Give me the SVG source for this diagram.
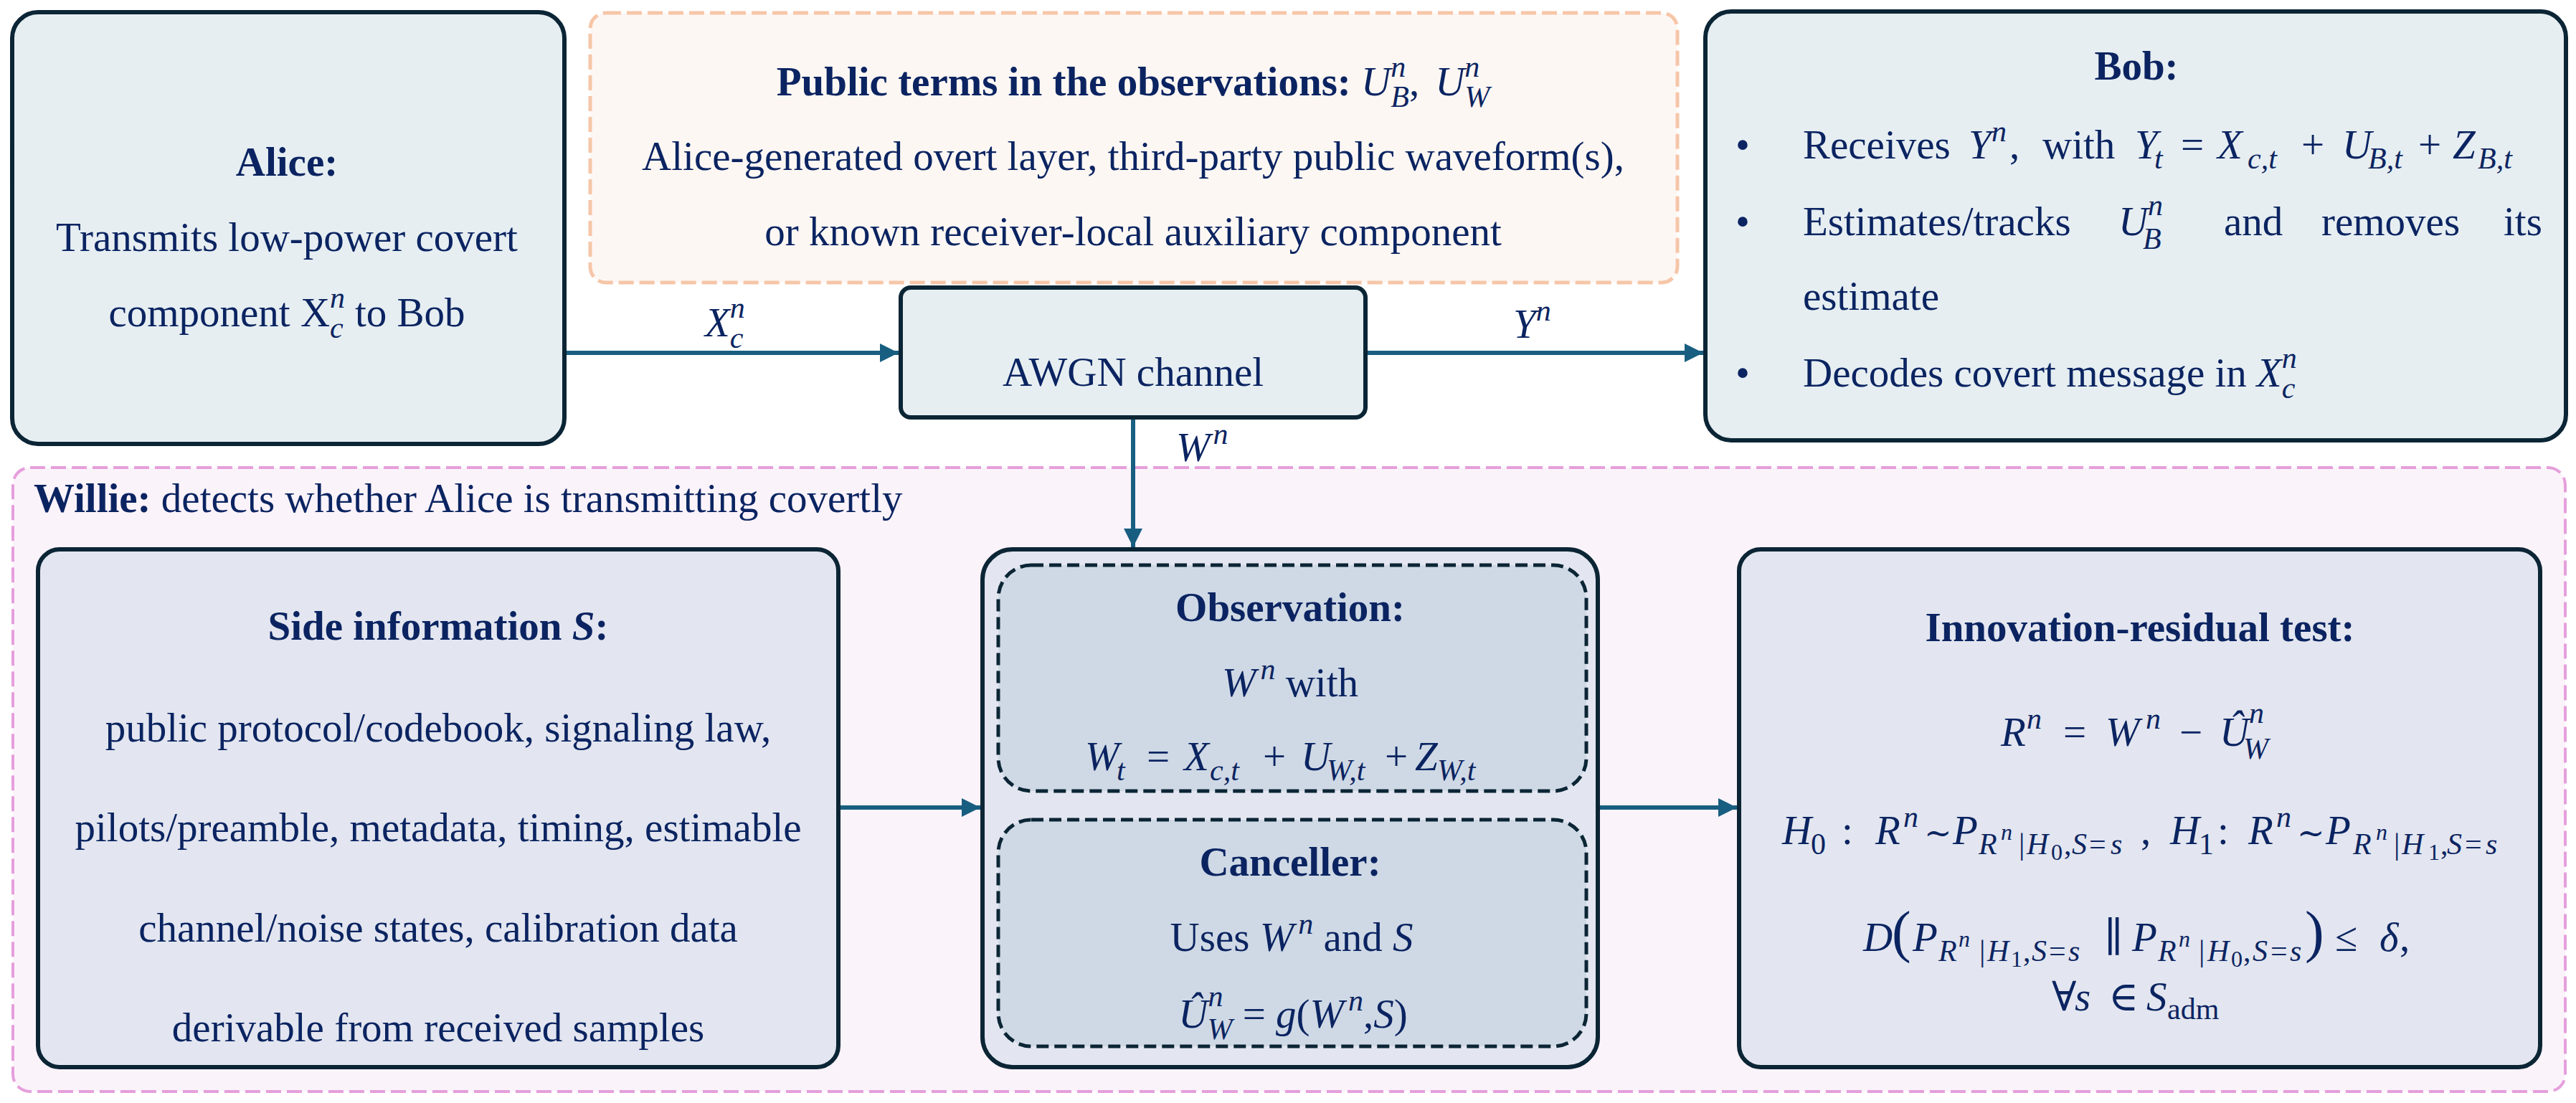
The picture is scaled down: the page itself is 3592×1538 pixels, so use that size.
<svg xmlns="http://www.w3.org/2000/svg" width="3592" height="1538" viewBox="0 0 3592 1538">
<defs>
<style>
.box{fill:#e6eef2;stroke:#0b2535;stroke-width:6}
.wbox{fill:#e3e6f0;stroke:#0b2535;stroke-width:6}
.dbox{fill:#cfd9e5;stroke:#0b2535;stroke-width:5;stroke-dasharray:17 8}
.t{font-family:"Liberation Serif","DejaVu Serif",serif;font-size:57px;fill:#0b2461}
.b{font-weight:bold}
.m{font-style:italic}
.s{font-size:42px}
.ss{font-size:32px}
.tl{font-size:46px}
.c{text-anchor:middle}
.conn line{stroke:#185e80;stroke-width:6}
</style>
<marker id="ah" markerUnits="userSpaceOnUse" markerWidth="27" markerHeight="28" refX="26" refY="13" orient="auto" viewBox="0 0 27 26"><path d="M0,0 L26,13 L0,26 z" fill="#185e80"/></marker>
</defs>
<rect width="3592" height="1538" fill="#ffffff"/>

<g id="willie">
<rect x="18" y="652" width="3559" height="870" rx="24" fill="#fbf3fa" stroke="#e59fdc" stroke-width="4" stroke-dasharray="21 8"/>
<text class="t" x="47" y="714"><tspan class="b">Willie:</tspan> detects whether Alice is transmitting covertly</text>
</g>

<g id="alice">
<rect class="box" x="17" y="17" width="770" height="602" rx="36"/>
<text class="t b c" x="400" y="245">Alice:</text>
<text class="t c" x="400" y="350">Transmits low-power covert</text>
<text class="t c" x="400" y="455">component X<tspan class="s m" dy="-26">n</tspan><tspan class="s m" dx="-21" dy="42">c</tspan><tspan dx="2" dy="-16"> to Bob</tspan></text>
</g>

<g id="public">
<rect x="823" y="18" width="1516" height="376" rx="22" fill="#fdf7f4" stroke="#f6c6a8" stroke-width="5" stroke-dasharray="21 8"/>
<text class="t c" x="1580" y="133"><tspan class="b">Public terms in the observations: </tspan><tspan class="m">U</tspan><tspan class="s m" dy="-26">n</tspan><tspan class="s m" dx="-21" dy="42">B</tspan><tspan dy="-16">,</tspan><tspan class="m" dx="22">U</tspan><tspan class="s m" dy="-26">n</tspan><tspan class="s m" dx="-21" dy="42">W</tspan></text>
<text class="t c" x="1580" y="237">Alice-generated overt layer, third-party public waveform(s),</text>
<text class="t c" x="1580" y="342">or known receiver-local auxiliary component</text>
</g>

<g id="awgn">
<rect class="box" x="1256" y="401" width="648" height="181" rx="14"/>
<text class="t c" x="1580" y="538">AWGN channel</text>
</g>

<g id="bob">
<rect class="box" x="2378" y="16" width="1200" height="598" rx="36"/>
<text class="t b c" x="2979" y="111">Bob:</text>
<text class="t" x="2420" y="221">•</text>
<text class="t" x="2420" y="328">•</text>
<text class="t" x="2420" y="539">•</text>
<text class="t" y="221"><tspan x="2514">Receives</tspan><tspan class="m" x="2745">Y</tspan><tspan class="s m" x="2777" y="197">n</tspan><tspan x="2802" y="221">,</tspan><tspan x="2848">with</tspan><tspan class="m" x="2977">Y</tspan><tspan class="s m" x="3004" y="235">t</tspan><tspan x="3041" y="221">=</tspan><tspan class="m" x="3092">X</tspan><tspan class="s m" x="3134" y="235">c,t</tspan><tspan x="3209" y="221">+</tspan><tspan class="m" x="3266">U</tspan><tspan class="s m" x="3302" y="235">B,t</tspan><tspan x="3372" y="221">+</tspan><tspan class="m" x="3420">Z</tspan><tspan class="s m" x="3455" y="235">B,t</tspan></text>
<text class="t" y="328"><tspan x="2514">Estimates/tracks</tspan><tspan class="m" x="2954">U</tspan><tspan class="s m" x="2995" y="300">n</tspan><tspan class="s m" x="2988" y="347">B</tspan><tspan x="3101" y="328">and</tspan><tspan x="3237">removes</tspan><tspan x="3491">its</tspan></text>
<text class="t" x="2514" y="432">estimate</text>
<text class="t" x="2514" y="539">Decodes covert message in<tspan class="m" dx="14">X</tspan><tspan class="s m" dy="-26">n</tspan><tspan class="s m" dx="-21" dy="42">c</tspan></text>
</g>

<g id="side-info">
<rect class="wbox" x="53" y="766" width="1116" height="722" rx="30"/>
<text class="t b c" x="611" y="892">Side information <tspan class="m">S</tspan>:</text>
<text class="t c" x="611" y="1034">public protocol/codebook, signaling law,</text>
<text class="t c" x="611" y="1173">pilots/preamble, metadata, timing, estimable</text>
<text class="t c" x="611" y="1313">channel/noise states, calibration data</text>
<text class="t c" x="611" y="1452">derivable from received samples</text>
</g>

<g id="willie-processor">
<rect class="wbox" x="1370" y="766" width="858" height="722" rx="42"/>
<g id="observation">
<rect class="dbox" x="1392" y="788" width="820" height="315" rx="46"/>
<text class="t b c" x="1799" y="866">Observation:</text>
<text class="t c" x="1799" y="971"><tspan class="m">W</tspan><tspan class="s m" dx="6" dy="-24">n</tspan><tspan dy="24"> with</tspan></text>
<text class="t" y="1074"><tspan class="m" x="1513">W</tspan><tspan class="s m" x="1557" y="1088">t</tspan><tspan x="1599" y="1074">=</tspan><tspan class="m" x="1651">X</tspan><tspan class="s m" x="1687" y="1088">c,t</tspan><tspan x="1761" y="1074">+</tspan><tspan class="m" x="1814">U</tspan><tspan class="s m" x="1850" y="1088">W,t</tspan><tspan x="1931" y="1074">+</tspan><tspan class="m" x="1973">Z</tspan><tspan class="s m" x="2004" y="1088">W,t</tspan></text>
</g>
<g id="canceller">
<rect class="dbox" x="1392" y="1143" width="820" height="316" rx="46"/>
<text class="t b c" x="1799" y="1221">Canceller:</text>
<text class="t c" x="1801" y="1326">Uses <tspan class="m">W</tspan><tspan class="s m" dx="6" dy="-24">n</tspan><tspan dy="24"> and </tspan><tspan class="m">S</tspan></text>
<text class="t c" x="1803" y="1433"><tspan class="m">Û</tspan><tspan class="s m" dy="-30">n</tspan><tspan class="s m" dx="-22" dy="46">W</tspan><tspan dy="-16"> = </tspan><tspan class="m">g</tspan>(<tspan class="m">W</tspan><tspan class="s m" dx="6" dy="-24">n</tspan><tspan dy="24">,</tspan><tspan class="m">S</tspan>)</text>
</g>
</g>

<g id="innovation">
<rect class="wbox" x="2425" y="766" width="1117" height="722" rx="30"/>
<text class="t b c" x="2984" y="894">Innovation-residual test:</text>
<text class="t" y="1040"><tspan class="m" x="2790">R</tspan><tspan class="s m" x="2826" y="1016">n</tspan><tspan x="2877" y="1040">=</tspan><tspan class="m" x="2936">W</tspan><tspan class="s m" x="2992" y="1016">n</tspan><tspan x="3039" y="1040">−</tspan><tspan class="m" x="3095">Û</tspan><tspan class="s m" x="3136" y="1008">n</tspan><tspan class="s m" x="3128" y="1058">W</tspan></text>
<text class="t" y="1177"><tspan class="m" x="2485">H</tspan><tspan class="s" x="2525" y="1191">0</tspan><tspan x="2568" y="1177">:</tspan><tspan class="m" x="2615">R</tspan><tspan class="s m" x="2654" y="1153">n</tspan><tspan class="tl" x="2683" y="1177">∼</tspan><tspan class="m" x="2723">P</tspan><tspan class="s m" x="2759" y="1191">R</tspan><tspan class="ss m" x="2790" y="1171">n</tspan><tspan class="s" x="2815" y="1191">|</tspan><tspan class="s m" x="2826">H</tspan><tspan class="ss" x="2860" y="1199">0</tspan><tspan class="s" x="2878" y="1191">,</tspan><tspan class="s m" x="2889">S</tspan><tspan class="s" x="2913">=</tspan><tspan class="s m" x="2943">s</tspan><tspan x="2985" y="1177">,</tspan><tspan class="m" x="3026">H</tspan><tspan class="s" x="3066" y="1191">1</tspan><tspan x="3092" y="1177">:</tspan><tspan class="m" x="3135">R</tspan><tspan class="s m" x="3174" y="1153">n</tspan><tspan class="tl" x="3203" y="1177">∼</tspan><tspan class="m" x="3243">P</tspan><tspan class="s m" x="3281" y="1191">R</tspan><tspan class="ss m" x="3313" y="1171">n</tspan><tspan class="s" x="3338" y="1191">|</tspan><tspan class="s m" x="3349">H</tspan><tspan class="ss" x="3386" y="1199">1</tspan><tspan class="s" x="3403" y="1191">,</tspan><tspan class="s m" x="3412">S</tspan><tspan class="s" x="3437">=</tspan><tspan class="s m" x="3466">s</tspan></text>
<text class="t" y="1326"><tspan class="m" x="2598">D</tspan><tspan x="2638" font-size="80">(</tspan><tspan class="m" x="2667">P</tspan><tspan class="s m" x="2703" y="1340">R</tspan><tspan class="ss m" x="2731" y="1320">n</tspan><tspan class="s" x="2760" y="1340">|</tspan><tspan class="s m" x="2771">H</tspan><tspan class="ss" x="2804" y="1348">1</tspan><tspan class="s" x="2821" y="1340">,</tspan><tspan class="s m" x="2833">S</tspan><tspan class="s" x="2857">=</tspan><tspan class="s m" x="2884">s</tspan><tspan x="2934" y="1326">∥</tspan><tspan class="m" x="2973">P</tspan><tspan class="s m" x="3009" y="1340">R</tspan><tspan class="ss m" x="3038" y="1320">n</tspan><tspan class="s" x="3066" y="1340">|</tspan><tspan class="s m" x="3078">H</tspan><tspan class="ss" x="3111" y="1348">0</tspan><tspan class="s" x="3128" y="1340">,</tspan><tspan class="s m" x="3141">S</tspan><tspan class="s" x="3166">=</tspan><tspan class="s m" x="3193">s</tspan><tspan x="3214" y="1326" font-size="80">)</tspan><tspan x="3256">≤</tspan><tspan class="m" x="3318">δ</tspan><tspan x="3346">,</tspan></text>
<text class="t" y="1409"><tspan x="2861">∀</tspan><tspan class="m" x="2893">s</tspan><tspan x="2940">∈</tspan><tspan class="m" x="2993">S</tspan><tspan class="s" x="3022" y="1421">adm</tspan></text>
</g>

<g id="connectors" class="conn">
<line x1="790" y1="492" x2="1253" y2="492" marker-end="url(#ah)"/>
<line x1="1907" y1="492" x2="2375" y2="492" marker-end="url(#ah)"/>
<line x1="1580" y1="585" x2="1580" y2="763" marker-end="url(#ah)"/>
<line x1="1172" y1="1126" x2="1367" y2="1126" marker-end="url(#ah)"/>
<line x1="2231" y1="1126" x2="2422" y2="1126" marker-end="url(#ah)"/>
<text class="t m" x="983" y="469">X<tspan class="s" dy="-26">n</tspan><tspan class="s" dx="-21" dy="42">c</tspan></text>
<text class="t m" x="2110" y="471">Y<tspan class="s" dy="-24">n</tspan></text>
<text class="t m" x="1640" y="643">W<tspan class="s" dx="4" dy="-24">n</tspan></text>
</g>
</svg>
